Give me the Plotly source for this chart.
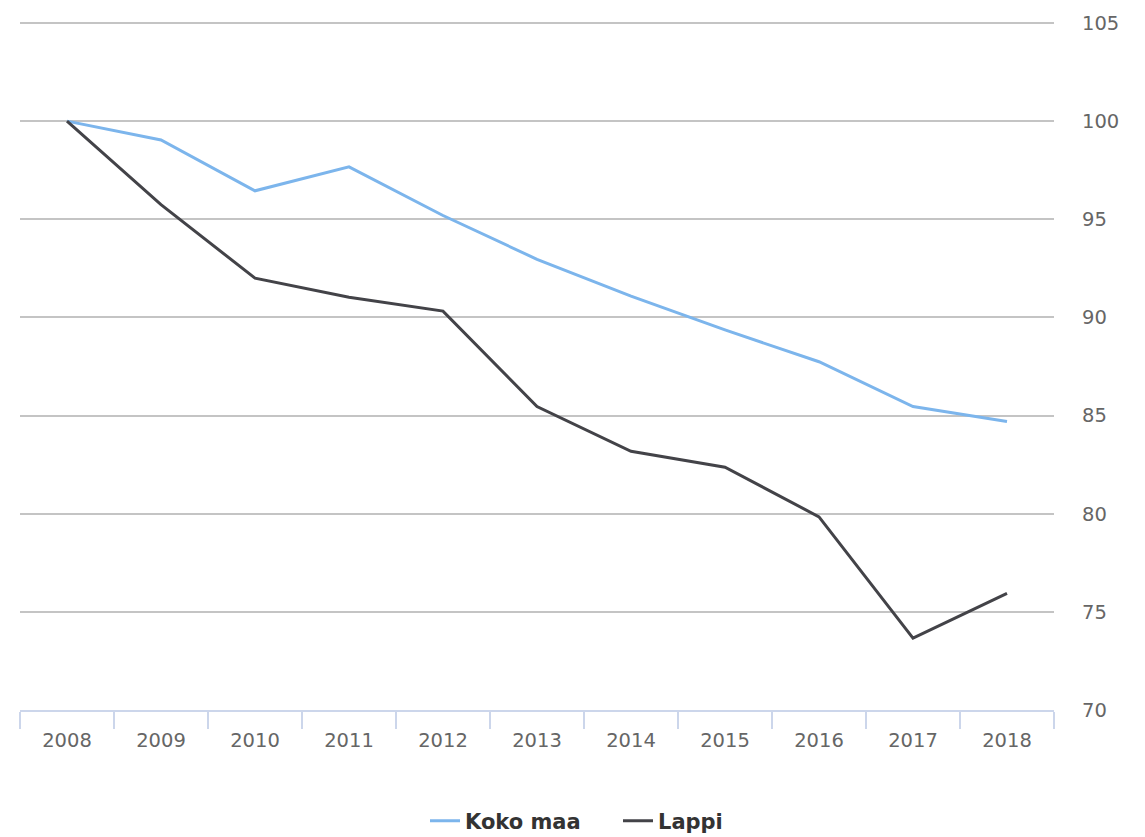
import plotly.graph_objects as go

years = ["2008", "2009", "2010", "2011", "2012", "2013", "2014", "2015", "2016", "2017", "2018"]
koko_maa = [100, 99.04, 96.45, 97.67, 95.19, 92.96, 91.08, 89.36, 87.74, 85.46, 84.7]
lappi = [100, 95.74, 92.0, 91.03, 90.32, 85.46, 83.18, 82.37, 79.84, 73.66, 75.94]

fig = go.Figure()
fig.add_trace(go.Scatter(x=years, y=koko_maa, name="Koko maa", mode="lines",
                         line=dict(color="#7cb5ec", width=3)))
fig.add_trace(go.Scatter(x=years, y=lappi, name="Lappi", mode="lines",
                         line=dict(color="#434348", width=3)))

fig.update_layout(
    width=1145, height=837,
    margin=dict(l=20, r=91, t=15, b=127),
    paper_bgcolor="white", plot_bgcolor="white",
    font=dict(family="DejaVu Sans", size=19.5, color="#666666"),
    showlegend=True,
    legend=dict(orientation="h", xref="container", yref="container",
                x=425 / 1145, xanchor="left", y=0.019, yanchor="middle",
                font=dict(size=21, color="#333333", weight="bold"),
                entrywidth=148, itemwidth=30),
    xaxis=dict(type="category", range=[-0.5, 10.5], showgrid=False,
               showline=True, linecolor="#ccd6eb", linewidth=2,
               ticks="outside", tickson="boundaries", ticklen=17,
               tickcolor="#ccd6eb", tickwidth=2, zeroline=False,
               ticklabelstandoff=12,
               tickfont=dict(size=19.5, color="#666666")),
    yaxis=dict(side="right", range=[70, 105.15], dtick=5, tick0=70,
               showgrid=True, gridcolor="#c4c4c4", gridwidth=1.5,
               zeroline=False, showline=False, ticks="",
               ticklabelstandoff=27,
               tickfont=dict(size=19.5, color="#666666")),
)

fig.write_html("out.html", config={"displayModeBar": False},
               post_script="document.body.style.margin='0';document.body.style.overflow='hidden';")
